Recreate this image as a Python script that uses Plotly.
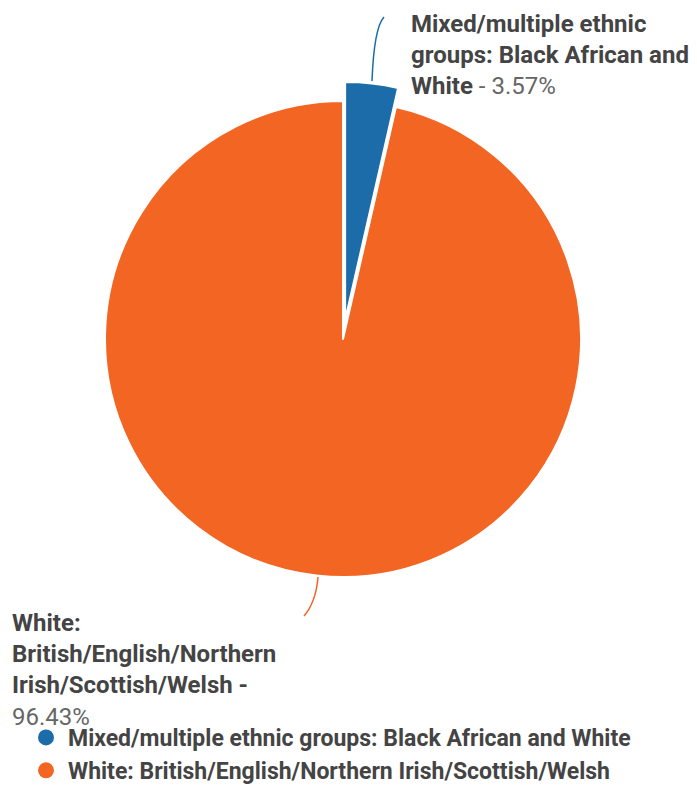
import plotly.graph_objects as go

# ---- data ----
categories = [
    "Mixed/multiple ethnic groups: Black African and White",
    "White: British/English/Northern Irish/Scottish/Welsh",
]
values = [3.57, 96.43]
label_lines = [
    "Mixed/multiple ethnic<br>groups: Black African and<br>White",
    "White:<br>British/English/Northern<br>Irish/Scottish/Welsh",
]
colors = ["#1b6ca8", "#f26522"]
pulls = [0.08, 0.0]

# page body has an 8px margin, so the figure is slightly smaller than the window
OFF = 8
W, H = 689, 777
FONT = "Roboto, 'Noto Sans', sans-serif"
FS = 24

def px(x):  # screen x -> paper fraction
    return (x - OFF) / W

def py(y):  # screen y -> paper fraction
    return 1 - (y - OFF) / H

fig = go.Figure()

# pie centred at (343, 339) screen px, radius 237, max pull 0.08
cx, cy, r = 343, 339, 238
half = r * (1 + max(pulls))
fig.add_trace(go.Pie(
    labels=categories,
    values=values,
    marker=dict(colors=colors, line=dict(color="white", width=2)),
    pull=pulls,
    sort=False,
    direction="clockwise",
    rotation=0,
    textinfo="none",
    showlegend=False,
    domain=dict(x=[px(cx - half), px(cx + half)], y=[py(cy + half), py(cy - half)]),
))

# legend entries with circle markers
for name, col in zip(categories, colors):
    fig.add_trace(go.Scatter(
        x=[None], y=[None], mode="markers", name=name,
        marker=dict(symbol="circle", size=16, color=col),
        showlegend=True,
    ))

# outside labels
pcts = [f"{v:.2f}%" for v in values]
fig.add_annotation(
    x=px(409), y=py(8), xref="paper", yref="paper",
    xanchor="left", yanchor="top", align="left", showarrow=False,
    text=f"<b>{label_lines[0]}</b><span style='color:#666666'> - {pcts[0]}</span>",
    font=dict(family=FONT, size=FS, color="#444444"),
)
fig.add_annotation(
    x=px(10), y=py(607), xref="paper", yref="paper",
    xanchor="left", yanchor="top", align="left", showarrow=False,
    text=f"<b>{label_lines[1]} -</b><br><span style='color:#666666'>{pcts[1]}</span>",
    font=dict(family=FONT, size=FS, color="#444444"),
)

# leader lines
fig.add_shape(type="path", xref="paper", yref="paper",
              path=f"M {px(372)} {py(81)} Q {px(374)} {py(28)} {px(384)} {py(17)}",
              line=dict(color=colors[0], width=1.5))
fig.add_shape(type="path", xref="paper", yref="paper",
              path=f"M {px(318)} {py(577)} Q {px(316)} {py(602)} {px(304)} {py(616)}",
              line=dict(color=colors[1], width=1.5))

fig.update_layout(
    width=W, height=H,
    margin=dict(l=0, r=0, t=0, b=0, autoexpand=False),
    paper_bgcolor="white", plot_bgcolor="white",
    xaxis=dict(visible=False), yaxis=dict(visible=False),
    font=dict(family=FONT, color="#444444"),
    legend=dict(
        x=px(24), y=-7 / H, xanchor="left", yanchor="bottom",
        font=dict(family=FONT, size=23, color="#444444", weight="bold"),
        bgcolor="rgba(0,0,0,0)", tracegroupgap=0, itemwidth=34,
    ),
)

fig.write_html("out.html")
